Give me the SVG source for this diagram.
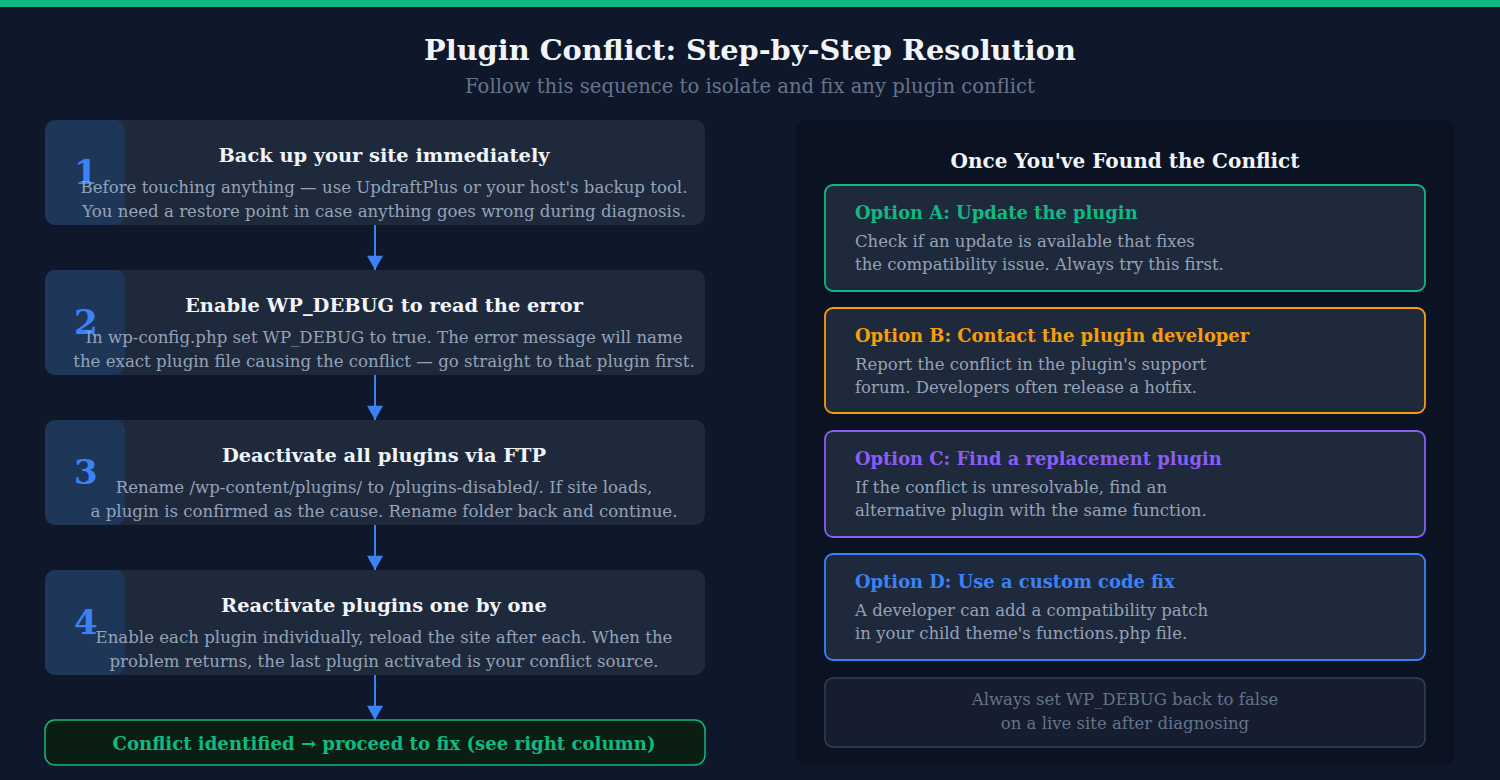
<svg xmlns="http://www.w3.org/2000/svg" width="1500" height="780" viewBox="0 0 1500 780">
<defs>
<marker id="ah" markerWidth="18" markerHeight="16" refX="16" refY="9" orient="auto" markerUnits="userSpaceOnUse" viewBox="0 0 16 18"><path d="M0,0 L16,9 L0,18 z" fill="#3b82f6"/></marker>
</defs>
<style>
text{font-family:"DejaVu Serif",serif}
.step{fill:#1e293b}
.num{fill:#1e3a5f;fill-opacity:0.85}
.n{font-size:34px;font-weight:bold;fill:#3b82f6}
.t{font-size:19.4px;font-weight:bold;fill:#f1f5f9;text-anchor:middle}
.d{font-size:16.6px;fill:#94a3b8;text-anchor:middle}
.ot{font-size:17.9px;font-weight:bold}
.od{font-size:16.5px;fill:#94a3b8}
.opt{fill:#1e293b;stroke-width:1.8}
.c{stroke:#3b82f6;stroke-width:2;fill:none}
</style>
<rect width="1500" height="780" fill="#0f172a"/>
<rect width="1500" height="7" fill="#10b981"/>
<text x="750" y="60" text-anchor="middle" font-size="28.8" font-weight="bold" fill="#f1f5f9">Plugin Conflict: Step-by-Step Resolution</text>
<text x="750" y="93" text-anchor="middle" font-size="19.6" fill="#64748b">Follow this sequence to isolate and fix any plugin conflict</text>
<g id="step1"><rect class="step" x="45" y="120" width="660" height="105" rx="10"/><rect class="num" x="45" y="120" width="80" height="105" rx="10"/><text class="n" x="74" y="184">1</text><text class="t" x="384" y="162">Back up your site immediately</text><text class="d" x="384" y="193">Before touching anything — use UpdraftPlus or your host's backup tool.</text><text class="d" x="384" y="217">You need a restore point in case anything goes wrong during diagnosis.</text></g>
<g id="step2"><rect class="step" x="45" y="270" width="660" height="105" rx="10"/><rect class="num" x="45" y="270" width="80" height="105" rx="10"/><text class="n" x="74" y="334">2</text><text class="t" x="384" y="312">Enable WP_DEBUG to read the error</text><text class="d" x="384" y="343">In wp-config.php set WP_DEBUG to true. The error message will name</text><text class="d" x="384" y="367">the exact plugin file causing the conflict — go straight to that plugin first.</text></g>
<g id="step3"><rect class="step" x="45" y="420" width="660" height="105" rx="10"/><rect class="num" x="45" y="420" width="80" height="105" rx="10"/><text class="n" x="74" y="484">3</text><text class="t" x="384" y="462">Deactivate all plugins via FTP</text><text class="d" x="384" y="493">Rename /wp-content/plugins/ to /plugins-disabled/. If site loads,</text><text class="d" x="384" y="517">a plugin is confirmed as the cause. Rename folder back and continue.</text></g>
<g id="step4"><rect class="step" x="45" y="570" width="660" height="105" rx="10"/><rect class="num" x="45" y="570" width="80" height="105" rx="10"/><text class="n" x="74" y="634">4</text><text class="t" x="384" y="612">Reactivate plugins one by one</text><text class="d" x="384" y="643">Enable each plugin individually, reload the site after each. When the</text><text class="d" x="384" y="667">problem returns, the last plugin activated is your conflict source.</text></g>
<g id="result"><rect x="45" y="720" width="660" height="45" rx="10" fill="#0a1f12" stroke="#10b981" stroke-width="1.5"/><text x="384" y="750" text-anchor="middle" font-size="18.1" font-weight="bold" fill="#10b981">Conflict identified → proceed to fix (see right column)</text></g>
<g id="connectors">
<line class="c" x1="375" y1="225" x2="375" y2="270" marker-end="url(#ah)"/>
<line class="c" x1="375" y1="375" x2="375" y2="420" marker-end="url(#ah)"/>
<line class="c" x1="375" y1="525" x2="375" y2="570" marker-end="url(#ah)"/>
<line class="c" x1="375" y1="675" x2="375" y2="720" marker-end="url(#ah)"/>
</g>
<g id="panel"><rect x="796" y="120" width="659" height="645" rx="12" fill="#0b1221"/><text x="1125" y="168" text-anchor="middle" font-size="20" font-weight="bold" fill="#f1f5f9">Once You've Found the Conflict</text></g>
<g id="optA"><rect class="opt" x="825" y="185" width="600" height="106" rx="8" stroke="#10b981"/><text class="ot" x="855" y="219" fill="#10b981">Option A: Update the plugin</text><text class="od" x="855" y="247">Check if an update is available that fixes</text><text class="od" x="855" y="270">the compatibility issue. Always try this first.</text></g>
<g id="optB"><rect class="opt" x="825" y="308" width="600" height="105" rx="8" stroke="#f59e0b"/><text class="ot" x="855" y="342" fill="#f59e0b">Option B: Contact the plugin developer</text><text class="od" x="855" y="370">Report the conflict in the plugin's support</text><text class="od" x="855" y="393">forum. Developers often release a hotfix.</text></g>
<g id="optC"><rect class="opt" x="825" y="431" width="600" height="106" rx="8" stroke="#8b5cf6"/><text class="ot" x="855" y="465" fill="#8b5cf6">Option C: Find a replacement plugin</text><text class="od" x="855" y="493">If the conflict is unresolvable, find an</text><text class="od" x="855" y="516">alternative plugin with the same function.</text></g>
<g id="optD"><rect class="opt" x="825" y="554" width="600" height="106" rx="8" stroke="#3b82f6"/><text class="ot" x="855" y="588" fill="#3b82f6">Option D: Use a custom code fix</text><text class="od" x="855" y="616">A developer can add a compatibility patch</text><text class="od" x="855" y="639">in your child theme's functions.php file.</text></g>
<g id="note"><rect x="825" y="678" width="600" height="69" rx="8" fill="#151d2e" stroke="#334155" stroke-width="1.5"/><text x="1125" y="705" text-anchor="middle" font-size="16.5" fill="#64748b">Always set WP_DEBUG back to false</text><text x="1125" y="729" text-anchor="middle" font-size="16.5" fill="#64748b">on a live site after diagnosing</text></g>
</svg>
